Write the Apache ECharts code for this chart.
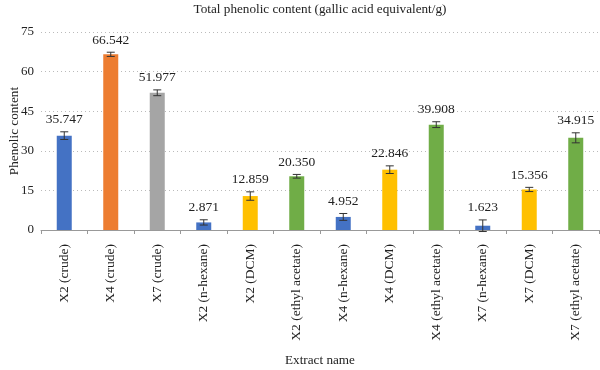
<!DOCTYPE html>
<html>
<head>
<meta charset="utf-8">
<script src="https://cdn.jsdelivr.net/npm/echarts@6/dist/echarts.min.js"></script>
<style>
  html, body { margin: 0; padding: 0; background: #fff; }
  #chart { width: 600px; height: 370px; }
</style>
</head>
<body>
<div id="chart"></div>
<script>
const categories = [
  "X2 (crude)", "X4 (crude)", "X7 (crude)", "X2 (n-hexane)", "X2 (DCM)", "X2 (ethyl acetate)",
  "X4 (n-hexane)", "X4 (DCM)", "X4 (ethyl acetate)", "X7 (n-hexane)", "X7 (DCM)", "X7 (ethyl acetate)"
];
const values = [35.747, 66.542, 51.977, 2.871, 12.859, 20.350, 4.952, 22.846, 39.908, 1.623, 15.356, 34.915];
const valueLabels = ["35.747", "66.542", "51.977", "2.871", "12.859", "20.350", "4.952", "22.846", "39.908", "1.623", "15.356", "34.915"];
const errors = [1.45, 0.8, 1.1, 1.0, 1.6, 0.7, 1.3, 1.45, 1.1, 2.2, 0.8, 1.9];
const barColors = ["#4472C4", "#ED7D31", "#A5A5A5", "#4472C4", "#FFC000", "#70AD47",
  "#4472C4", "#FFC000", "#70AD47", "#4472C4", "#FFC000", "#70AD47"];
const yTicks = [0, 15, 30, 45, 60, 75];

const FONT = "Liberation Serif";
const chart = echarts.init(document.getElementById("chart"), null, { renderer: "canvas" });

chart.setOption({
  animation: false,
  title: {
    text: "Total phenolic content (gallic acid equivalent/g)",
    left: 315, top: -2, textAlign: "center",
    textStyle: { fontFamily: FONT, fontSize: 13.2, fontWeight: "normal", color: "#222" }
  },
  grid: { left: 41, right: 1, top: 32, bottom: 140, outerBoundsMode: "none", containLabel: false },
  xAxis: {
    type: "category",
    data: categories,
    name: "Extract name",
    nameLocation: "middle",
    nameGap: 124,
    nameMoveOverlap: false,
    nameTextStyle: { fontFamily: FONT, fontSize: 13.2, color: "#222" },
    axisLine: { lineStyle: { color: "#999", width: 1 } },
    axisTick: { show: true, length: 4, lineStyle: { color: "#999" } },
    axisLabel: { rotate: 90, fontFamily: FONT, fontSize: 13.5, color: "#222", margin: 14 }
  },
  yAxis: {
    type: "value",
    min: 0, max: 75, interval: 15,
    name: "Phenolic content",
    nameLocation: "middle",
    nameGap: 20,
    nameMoveOverlap: false,
    nameTextStyle: { fontFamily: FONT, fontSize: 13.2, color: "#222" },
    axisLine: { show: false },
    axisTick: { show: false },
    axisLabel: { fontFamily: FONT, fontSize: 13, color: "#222", margin: 7,
      formatter: v => yTicks.includes(v) ? String(v) : "" },
    splitLine: { lineStyle: { color: "#bbb", type: [1, 3], width: 1 } }
  },
  series: [
    {
      type: "bar",
      barWidth: 15,
      data: values.map((v, i) => ({ value: v, itemStyle: { color: barColors[i] } }))
    },
    {
      type: "custom",
      z: 5,
      data: values.map((v, i) => [i, v, errors[i]]),
      renderItem: function (params, api) {
        const i = api.value(0);
        const v = api.value(1);
        const e = api.value(2);
        const top = api.coord([i, v + e]);
        const bot = api.coord([i, Math.max(v - e, -0.8)]);
        const hw = 4;
        const st = { stroke: "#333", lineWidth: 1 };
        return {
          type: "group",
          children: [
            { type: "line", shape: { x1: top[0], y1: top[1], x2: bot[0], y2: bot[1] }, style: st },
            { type: "line", shape: { x1: top[0] - hw, y1: top[1], x2: top[0] + hw, y2: top[1] }, style: st },
            { type: "line", shape: { x1: bot[0] - hw, y1: bot[1], x2: bot[0] + hw, y2: bot[1] }, style: st },
            { type: "text", style: {
                x: top[0], y: top[1] - 5, text: valueLabels[params.dataIndex],
                textAlign: "center", textVerticalAlign: "bottom",
                font: "13.5px " + FONT, fill: "#222"
              } }
          ]
        };
      }
    }
  ]
});
</script>
</body>
</html>
